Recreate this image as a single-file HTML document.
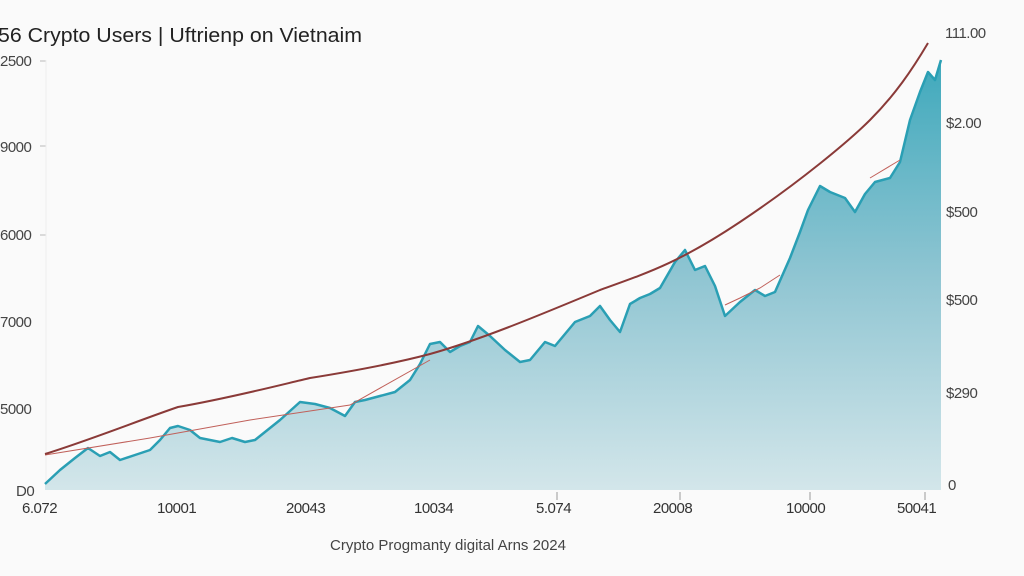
<!DOCTYPE html>
<html><head><meta charset="utf-8"><style>
html,body{margin:0;padding:0;background:#fafafa;}
svg{display:block;font-family:"Liberation Sans",sans-serif;}
</style></head><body>
<svg width="1024" height="576" viewBox="0 0 1024 576">
<defs>
<linearGradient id="g" x1="0" y1="0" x2="0" y2="1">
<stop offset="0" stop-color="#3fa9bc"/>
<stop offset="0.5" stop-color="#8fc5d2"/>
<stop offset="1" stop-color="#d3e6ea"/>
</linearGradient>
</defs>
<rect width="1024" height="576" fill="#fafafa"/>
<text x="-2" y="42" font-size="20" fill="#222" textLength="364" lengthAdjust="spacingAndGlyphs">56 Crypto Users | Uftrienp on Vietnaim</text>
<g font-size="15" fill="#444" letter-spacing="-0.5">
<text x="0" y="66">2500</text><text x="0" y="152">9000</text><text x="0" y="240">6000</text><text x="0" y="327">7000</text><text x="0" y="414">5000</text><text x="16" y="496">D0</text>
</g>
<g stroke="#bbb"><line x1="40" y1="61" x2="46" y2="61"/><line x1="40" y1="146" x2="46" y2="146"/><line x1="40" y1="235" x2="46" y2="235"/></g>
<line x1="46" y1="60" x2="46" y2="490" stroke="#eee"/>
<path d="M45,484 L60,470 75,458 88,448 100,456 110,452 120,460 135,455 150,450 160,440 170,428 178,426 190,430 200,438 210,440 220,442 232,438 245,442 255,440 265,432 280,420 300,402 315,404 330,408 345,416 355,402 365,400 380,396 395,392 410,380 420,364 430,344 440,342 450,352 460,346 470,342 478,326 490,336 505,350 520,362 530,360 545,342 555,346 565,334 575,322 590,316 600,306 610,320 620,332 630,304 640,298 650,294 660,288 675,262 685,250 695,270 705,266 715,286 725,316 740,302 755,290 765,296 775,292 790,258 800,232 808,210 820,186 830,192 845,198 855,212 865,194 875,182 890,178 900,162 910,120 920,92 928,72 935,80 941,60 L941,490 L45,490 Z" fill="url(#g)"/>
<path d="M45,484 L60,470 75,458 88,448 100,456 110,452 120,460 135,455 150,450 160,440 170,428 178,426 190,430 200,438 210,440 220,442 232,438 245,442 255,440 265,432 280,420 300,402 315,404 330,408 345,416 355,402 365,400 380,396 395,392 410,380 420,364 430,344 440,342 450,352 460,346 470,342 478,326 490,336 505,350 520,362 530,360 545,342 555,346 565,334 575,322 590,316 600,306 610,320 620,332 630,304 640,298 650,294 660,288 675,262 685,250 695,270 705,266 715,286 725,316 740,302 755,290 765,296 775,292 790,258 800,232 808,210 820,186 830,192 845,198 855,212 865,194 875,182 890,178 900,162 910,120 920,92 928,72 935,80 941,60" fill="none" stroke="#2a9fb4" stroke-width="2.5" stroke-linejoin="round"/>
<path d="M45,455 L150,438 250,420 350,405 430,360 M725,305 L740,298 760,288 780,275 M870,178 L900,160" fill="none" stroke="#c0605a" stroke-width="1"/>
<path d="M45,454 C90,440 140,420 178,407 C230,398 280,385 310,378 C360,370 400,362 430,354 C480,340 540,315 600,290 C650,272 680,262 740,222 C800,182 850,140 870,120 C895,95 912,70 928,43" fill="none" stroke="#8a3a38" stroke-width="2"/>
<g font-size="15" fill="#444" letter-spacing="-0.5">
<text x="945" y="38">111.00</text><text x="946" y="128">$2.00</text><text x="946" y="217">$500</text><text x="946" y="305">$500</text><text x="946" y="398">$290</text><text x="948" y="490">0</text>
</g>
<g stroke="#999"><line x1="557" y1="492" x2="557" y2="500"/><line x1="680" y1="492" x2="680" y2="500"/><line x1="810" y1="492" x2="810" y2="500"/><line x1="925" y1="492" x2="925" y2="500"/></g>
<g font-size="15" fill="#333" letter-spacing="-0.5">
<text x="22" y="513">6.072</text><text x="157" y="513">10001</text><text x="286" y="513">20043</text><text x="414" y="513">10034</text><text x="536" y="513">5.074</text><text x="653" y="513">20008</text><text x="786" y="513">10000</text><text x="897" y="513">50041</text>
</g>
<text x="330" y="550" font-size="15" fill="#444">Crypto Progmanty digital Arns 2024</text>
</svg>
</body></html>
